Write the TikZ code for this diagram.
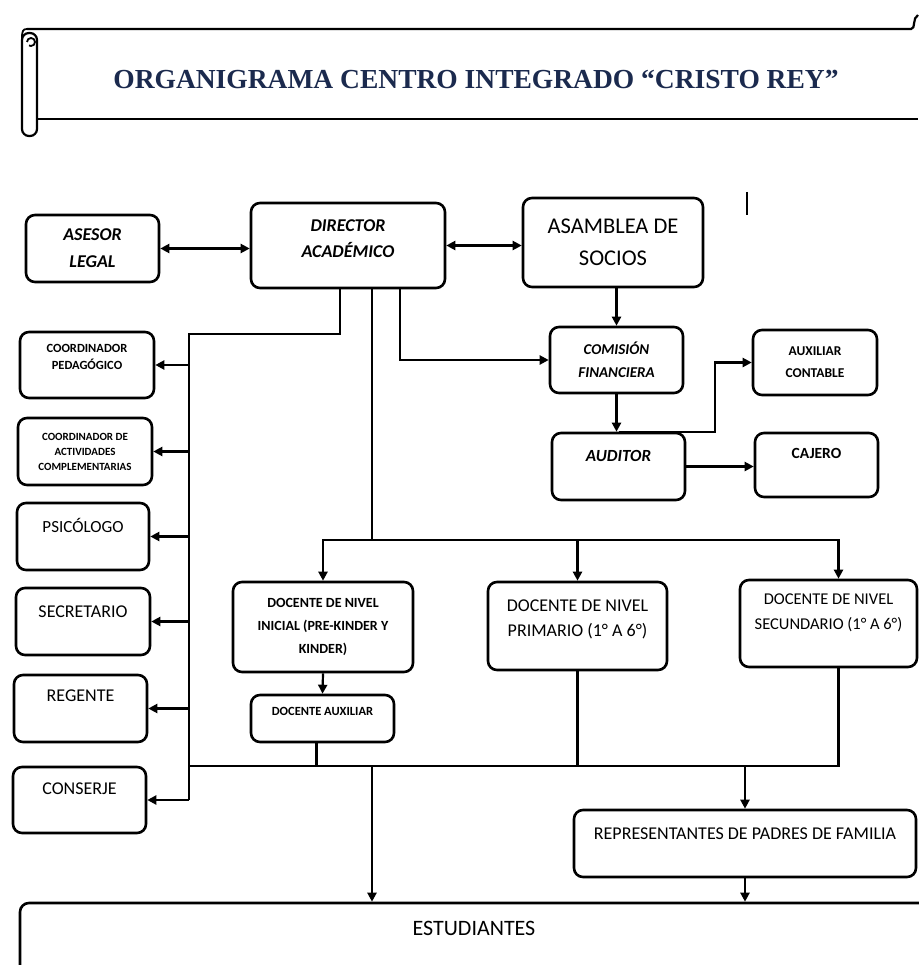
\documentclass[tikz,border=0pt]{standalone}
\usepackage{fontspec}
\setmainfont{Carlito}
\newfontfamily\titlefont{Liberation Serif}
\usetikzlibrary{positioning, arrows.meta, calc}
\definecolor{titlenavy}{HTML}{1B2A4E}
\newcommand{\fs}[2]{\fontsize{#1}{#2}\selectfont}

\begin{document}
\begin{tikzpicture}[x=1pt, y=-1pt,
    box/.style={draw, rounded corners=9pt, line width=2.6pt, align=center, inner sep=0pt},
    toptxt/.style={anchor=center, align=center, inner sep=0pt},
    line/.style={line width=2.2pt},
    arr/.style={line, -{Triangle[length=9pt, width=9pt]}},
    biarr/.style={line, {Triangle[length=9pt, width=9pt]}-{Triangle[length=9pt, width=9pt]}}
]
\useasboundingbox (0,0) rectangle (918,965);

% banner
\draw[line width=2.2pt] (27,29) -- (911,29) .. controls (916,29) and (912,18) .. (918,15);
\draw[line width=2.2pt] (37,119) -- (918,119);
\draw[line width=2.2pt, rounded corners=7pt] (22,33) rectangle (37,136);
\draw[line width=1.8pt] (27,29) .. controls (23,29) and (22,31) .. (22,38);
\draw[line width=1.8pt] (27,42) arc (180:-120:4pt);
\node[font=\titlefont\bfseries\fs{27.5}{30}, text=titlenavy] (title) at (476,79) {ORGANIGRAMA CENTRO INTEGRADO “CRISTO REY”};
\draw[line width=2.2pt] (747,192) -- (747,215);

% top row
\node[box, minimum width=133pt, minimum height=67pt, font=\bfseries\itshape\fs{18}{27}] (asesor) at (92.5,248.5) {ASESOR\\LEGAL};
\node[box, minimum width=194pt, minimum height=85pt,
      label={[toptxt, yshift=-37pt, font=\bfseries\itshape\fs{18}{26}]north:DIRECTOR\\ACADÉMICO}] (director) at (348,245.5) {};
\node[box, minimum width=180pt, minimum height=89pt, font=\fs{22.5}{32}] (asamblea) at (613,242.5) {ASAMBLEA DE\\SOCIOS};

% finance
\node[box, minimum width=133pt, minimum height=66pt, font=\bfseries\itshape\fs{15}{23}] (comision) at (616.5,360) {COMISIÓN\\FINANCIERA};
\node[box, minimum width=133pt, minimum height=67pt,
      label={[toptxt, yshift=-24pt, font=\bfseries\itshape\fs{17}{20}]north:AUDITOR}] (auditor) at (618.5,466.5) {};
\node[box, minimum width=124pt, minimum height=65pt, font=\bfseries\fs{13.5}{22}] (auxcont) at (815,362.5) {AUXILIAR\\CONTABLE};
\node[box, minimum width=123pt, minimum height=64pt,
      label={[toptxt, yshift=-22pt, font=\bfseries\fs{15.5}{18}]north:CAJERO}] (cajero) at (816.5,465) {};

% left column
\node[box, minimum width=134pt, minimum height=66pt,
      label={[toptxt, yshift=-26.5pt, font=\bfseries\fs{12.5}{17}]north:COORDINADOR\\PEDAGÓGICO}] (coordped) at (87,365) {};
\node[box, minimum width=134pt, minimum height=67pt, font=\bfseries\fs{11}{15}] (coordact) at (85,451.5) {COORDINADOR DE\\ACTIVIDADES\\COMPLEMENTARIAS};
\node[box, minimum width=132pt, minimum height=67pt,
      label={[toptxt, yshift=-24pt, font=\fs{17}{20}]north:PSICÓLOGO}] (psicologo) at (83,536.5) {};
\node[box, minimum width=134pt, minimum height=67pt,
      label={[toptxt, yshift=-25pt, font=\fs{18}{20}]north:SECRETARIO}] (secretario) at (83,621.5) {};
\node[box, minimum width=133pt, minimum height=67pt,
      label={[toptxt, yshift=-22pt, font=\fs{18}{20}]north:REGENTE}] (regente) at (80.5,708.5) {};
\node[box, minimum width=133pt, minimum height=66pt,
      label={[toptxt, yshift=-23pt, font=\fs{18}{20}]north:CONSERJE}] (conserje) at (79.5,800) {};

% teachers
\node[box, minimum width=180pt, minimum height=90pt, font=\bfseries\fs{14}{23}] (inicial) at (323,627) {DOCENTE DE NIVEL\\INICIAL (PRE-KINDER Y\\KINDER)};
\node[box, minimum width=143pt, minimum height=47pt,
      label={[toptxt, yshift=-18pt, font=\bfseries\fs{12.5}{15}]north:DOCENTE AUXILIAR}] (docaux) at (322.5,718.5) {};
\node[box, minimum width=179pt, minimum height=88pt,
      label={[toptxt, yshift=-38.5pt, font=\fs{18}{25}]north:DOCENTE DE NIVEL\\PRIMARIO (1° A 6°)}] (primario) at (577.5,626) {};
\node[box, minimum width=177pt, minimum height=87pt,
      label={[toptxt, yshift=-34.5pt, font=\fs{16.5}{25}]north:DOCENTE DE NIVEL\\SECUNDARIO (1° A 6°)}] (secundario) at (828.5,623.5) {};

% bottom
\node[box, minimum width=342pt, minimum height=67pt,
      label={[toptxt, yshift=-25pt, font=\fs{18}{20}]north:REPRESENTANTES DE PADRES DE FAMILIA}] (repres) at (745,843.5) {};
\node[box, minimum width=920pt, minimum height=87pt,
      label={[toptxt, xshift=-6pt, yshift=-27pt, font=\fs{22}{24}]north:ESTUDIANTES}] (estudiantes) at (480,946.5) {};

% connectors
\draw[biarr] (asesor.east) -- (asesor.east -| director.west);
\draw[biarr] (director.east) -- (director.east -| asamblea.west);
\draw[arr] (comision.north |- asamblea.south) -- (comision.north);
\draw[arr] (comision.south) -- (comision.south |- auditor.north);
\coordinate (auxbend) at (715,433);
\draw[arr] (auditor.north) -- (auditor.north -| auxbend) |- (auxcont.west);
\draw[arr] (auditor.east) -- (auditor.east -| cajero.west);

\coordinate (trunk) at (189,334);
\draw[line] ([xshift=-8pt]director.south) |- (trunk) -- (trunk |- conserje.east);
\foreach \n in {coordped, coordact, psicologo, secretario, regente, conserje}
  \draw[arr] (trunk |- \n.east) -- (\n.east);
\draw[arr] ([xshift=52pt]director.south) |- (comision.west);

\coordinate (bus1) at (372,540);
\draw[line] ([xshift=24pt]director.south) -- (bus1);
\draw[arr] (bus1) -| (inicial.north);
\draw[arr] (bus1) -| (primario.north);
\draw[arr] (bus1) -| ([xshift=10pt]secundario.north);
\draw[arr] (inicial.south) -- (docaux.north);

\coordinate (bus2) at (189,766);
\draw[line] ([xshift=10pt]secundario.south) |- (bus2);
\draw[line] (primario.south) -- (primario.south |- bus2);
\draw[line] ([xshift=-6pt]docaux.south) -- ([xshift=-6pt]docaux.south |- bus2);
\draw[arr] (bus1 |- bus2) -- (bus1 |- estudiantes.north);
\draw[arr] (repres.north |- bus2) -- (repres.north);
\draw[arr] (repres.south) -- (repres.south |- estudiantes.north);
\end{tikzpicture}
\end{document}
